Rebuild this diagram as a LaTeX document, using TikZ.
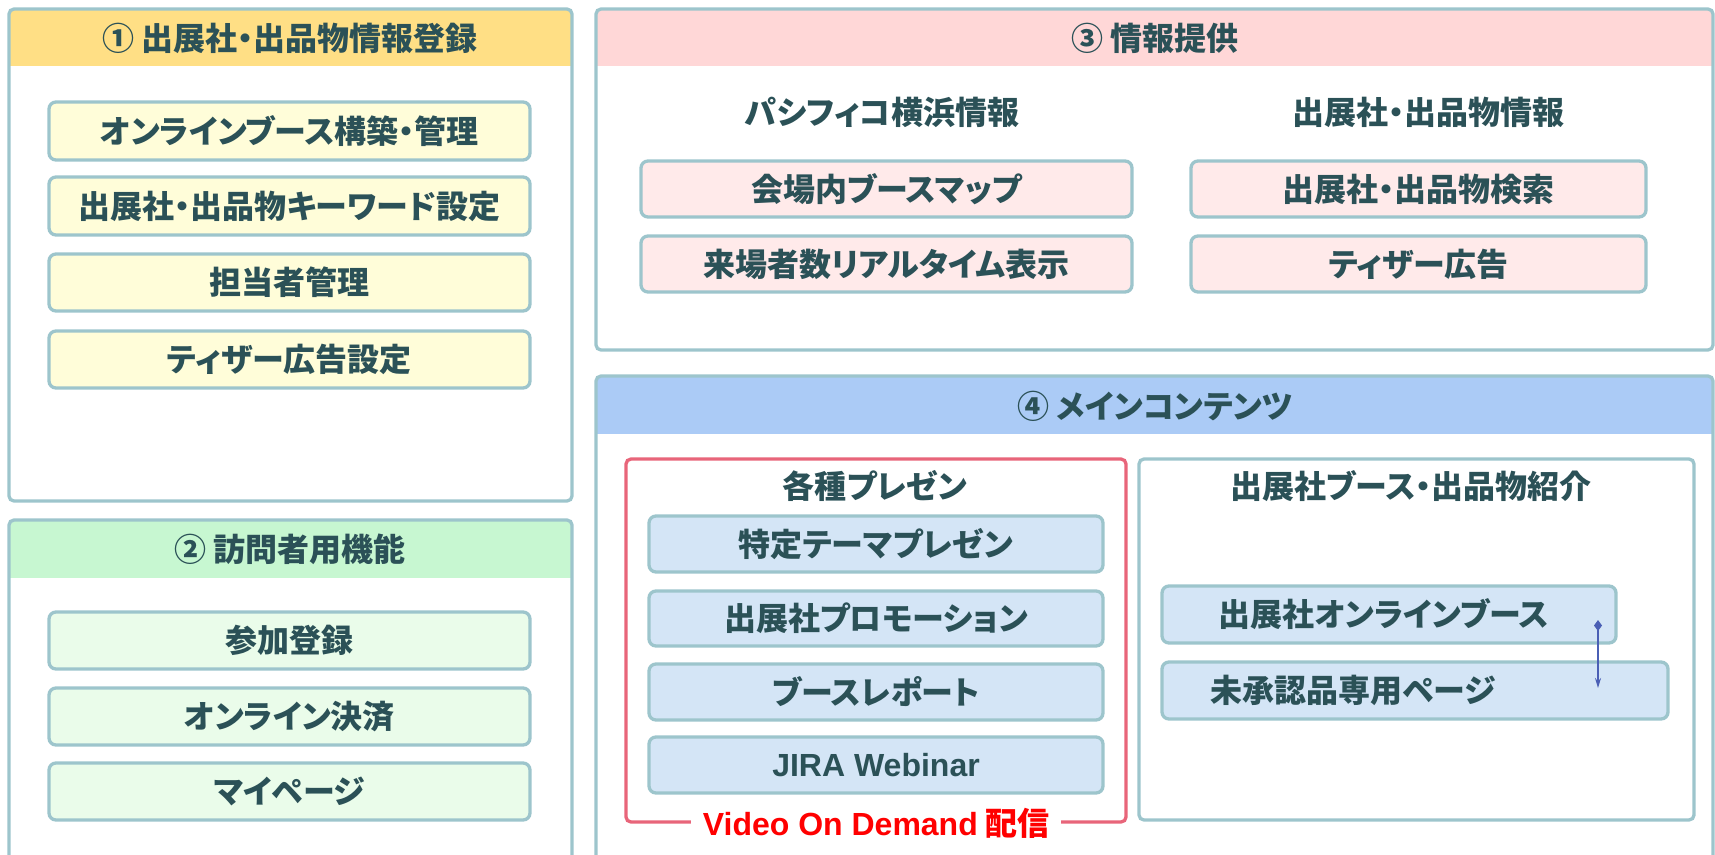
\documentclass[tikz,border=0pt]{standalone}
\usepackage{fontspec}
\setmainfont{Noto Sans CJK JP}[RawFeature=+palt]
\newfontfamily\latf{Liberation Sans}
\usetikzlibrary{fit,arrows.meta}
\definecolor{bord}{HTML}{9DC5CC}
\definecolor{txt}{HTML}{2B5157}
\definecolor{hyel}{HTML}{FFDF85}
\definecolor{iyel}{HTML}{FFFDD9}
\definecolor{hgrn}{HTML}{C7F7D1}
\definecolor{igrn}{HTML}{EAFCEA}
\definecolor{hpnk}{HTML}{FFD7D7}
\definecolor{ipnk}{HTML}{FFEAEA}
\definecolor{hblu}{HTML}{ABCBF6}
\definecolor{iblu}{HTML}{D4E5F6}
\definecolor{redbox}{HTML}{E8657A}
\definecolor{redtxt}{HTML}{FF0000}
\definecolor{arrc}{HTML}{4A5FB5}
\tikzset{
  panel/.style={draw=bord, line width=3.3pt, rounded corners=5pt, inner sep=0pt},
  itembox/.style={draw=bord, line width=3.3pt, rounded corners=7pt, inner sep=0pt},
  itxt/.style={text=txt, inner sep=0pt, font=\fontsize{32}{38}\selectfont\bfseries},
  ttl/.style={text=txt, inner sep=0pt, font=\fontsize{32}{38}\selectfont\bfseries},
}
\newcommand\ibox[4]{\node[itembox, fill=#1, fit={#2}, label={[itxt]center:#3}] (#4) {};}
\begin{document}
\begin{tikzpicture}[x=1pt,y=-1pt]
\useasboundingbox (0,0) rectangle (1715,854);
\clip (0,0) rectangle (1715,854);
% ---------- Panel 1
\begin{scope}
\clip[rounded corners=5pt] (9,9) rectangle (572,501);
\fill[hyel] (9,9) rectangle (572,66);
\end{scope}
\node[panel, fit={(9,9)(572,501)}] (P1) {};
\node[ttl] (T1) at (290,38) {① 出展社・出品物情報登録};
\ibox{iyel}{(49,102)(530,160)}{オンラインブース構築・管理}{A1}
\ibox{iyel}{(49,177)(530,235)}{出展社・出品物キーワード設定}{A2}
\ibox{iyel}{(49,254)(530,311)}{担当者管理}{A3}
\ibox{iyel}{(49,331)(530,388)}{ティザー広告設定}{A4}
% ---------- Panel 2
\begin{scope}
\clip[rounded corners=5pt] (9,520) rectangle (572,880);
\fill[hgrn] (9,520) rectangle (572,578);
\end{scope}
\node[panel, fit={(9,520)(572,880)}] (P2) {};
\node[ttl] (T2) at (290,549) {② 訪問者用機能};
\ibox{igrn}{(49,612)(530,669)}{参加登録}{B1}
\ibox{igrn}{(49,688)(530,745)}{オンライン決済}{B2}
\ibox{igrn}{(49,763)(530,820)}{マイページ}{B3}
% ---------- Panel 3
\begin{scope}
\clip[rounded corners=5pt] (596,9) rectangle (1713,350);
\fill[hpnk] (596,9) rectangle (1713,66);
\end{scope}
\node[panel, fit={(596,9)(1713,350)}] (P3) {};
\node[ttl] (T3) at (1155,38) {③ 情報提供};
\node[ttl] (S31) at (882,112) {パシフィコ横浜情報};
\node[ttl] (S32) at (1428,112) {出展社・出品物情報};
\ibox{ipnk}{(641,161)(1132,217)}{会場内ブースマップ}{C1}
\ibox{ipnk}{(641,236)(1132,292)}{来場者数リアルタイム表示}{C2}
\ibox{ipnk}{(1191,161)(1646,217)}{出展社・出品物検索}{C3}
\ibox{ipnk}{(1191,236)(1646,292)}{ティザー広告}{C4}
% ---------- Panel 4
\begin{scope}
\clip[rounded corners=5pt] (596,376) rectangle (1713,880);
\fill[hblu] (596,376) rectangle (1713,434);
\end{scope}
\node[panel, fit={(596,376)(1713,880)}] (P4) {};
\node[ttl] (T4) at (1155,406) {④ メインコンテンツ};
% red box
\node[draw=redbox, line width=3.3pt, rounded corners=5pt, inner sep=0pt, fit={(626,459)(1126,822)}] (R) {};
\node[ttl] (RT) at (875,486) {各種プレゼン};
\ibox{iblu}{(649,516)(1103,572)}{特定テーマプレゼン}{D1}
\ibox{iblu}{(649,591)(1103,646)}{出展社プロモーション}{D2}
\ibox{iblu}{(649,664)(1103,720)}{ブースレポート}{D3}
\ibox{iblu}{(649,737)(1103,793)}{{\latf\bfseries JIRA Webinar}}{D4}
\node[fill=white, inner xsep=12pt, inner ysep=0pt, text=redtxt,
  font=\fontsize{32}{38}\selectfont\bfseries] (VOD) at (R.south) {{\latf\bfseries Video On Demand} 配信};
% right box
\node[panel, fit={(1139,459)(1694,820)}] (Q) {};
\node[ttl] (QT) at (1411,486) {出展社ブース・出品物紹介};
\node[itembox, fill=iblu, fit={(1162,586)(1616,643)}] (E1) {};
\node[itxt] (E1t) at (1384,614) {出展社オンラインブース};
\node[itembox, fill=iblu, fit={(1162,662)(1668,719)}] (E2) {};
\node[itxt] (E2t) at (1353,690) {未承認品専用ページ};
\coordinate (arS) at (1598,620);
\coordinate (arE) at (1598,688);
\draw[arrc, line width=1.4pt, {Diamond[length=11pt,width=8pt]}-{Stealth[length=10pt,width=6pt]}] (arS) -- (arE);
\end{tikzpicture}
\end{document}
